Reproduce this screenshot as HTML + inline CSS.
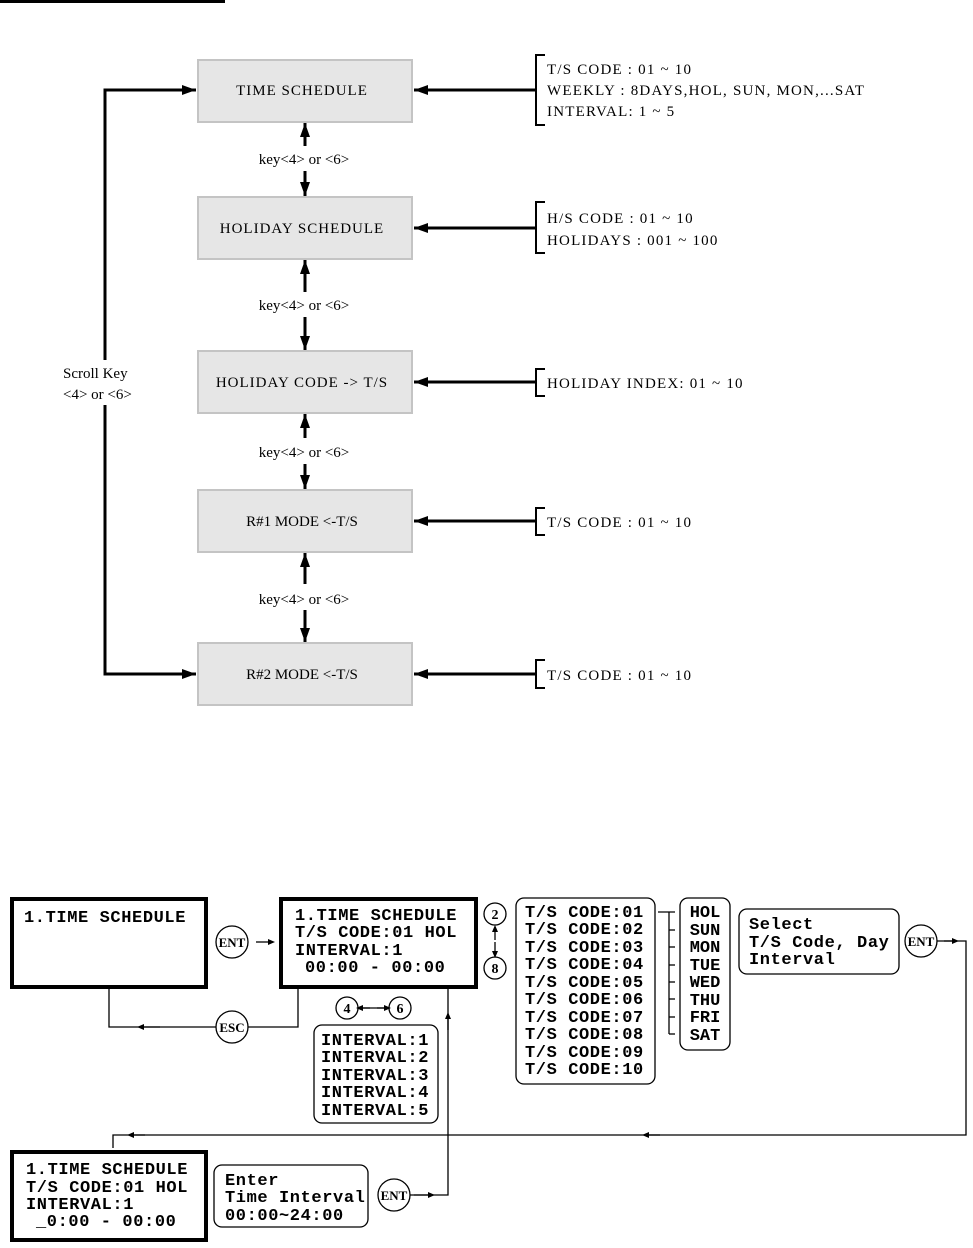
<!DOCTYPE html>
<html><head><style>
body{margin:0;background:#fff}
svg{display:block}
.s{font-family:"Liberation Serif",serif;font-size:15px;fill:#000}
.r{letter-spacing:1.2px}
.m{font-family:"Liberation Mono",monospace;font-size:17px;font-weight:bold;fill:#000;letter-spacing:0.6px;white-space:pre}
.c{font-family:"Liberation Serif",serif;font-size:13px;font-weight:bold;fill:#000}
</style></head><body>
<svg width="973" height="1248" viewBox="0 0 973 1248">
<defs>
<marker id="b" markerWidth="14" markerHeight="10" refX="14" refY="5" orient="auto" markerUnits="userSpaceOnUse"><path d="M0,0L14,5L0,10z"/></marker>
<marker id="s" markerWidth="7" markerHeight="6" refX="4" refY="3" orient="auto" markerUnits="userSpaceOnUse"><path d="M0,0L7,3L0,6z"/></marker>
</defs>
<rect x="0" y="0" width="225" height="3" fill="#000"/>
<g fill="#e6e6e6" stroke="#c4c4c4" stroke-width="2">
<rect x="198" y="60" width="214" height="62"/>
<rect x="198" y="197" width="214" height="62"/>
<rect x="198" y="351" width="214" height="62"/>
<rect x="198" y="490" width="214" height="62"/>
<rect x="198" y="643" width="214" height="62"/>
</g>
<g class="s" text-anchor="middle">
<text x="302" y="95" letter-spacing="1">TIME SCHEDULE</text>
<text x="302" y="233" letter-spacing="1">HOLIDAY SCHEDULE</text>
<text x="302" y="387" letter-spacing="1">HOLIDAY CODE -&gt; T/S</text>
<text x="302" y="526">R#1 MODE &lt;-T/S</text>
<text x="302" y="679">R#2 MODE &lt;-T/S</text>
<text x="304" y="164">key&lt;4&gt; or &lt;6&gt;</text>
<text x="304" y="310">key&lt;4&gt; or &lt;6&gt;</text>
<text x="304" y="457">key&lt;4&gt; or &lt;6&gt;</text>
<text x="304" y="604">key&lt;4&gt; or &lt;6&gt;</text>
</g>
<g stroke="#000" stroke-width="3" fill="none" marker-end="url(#b)">
<line x1="305" y1="146" x2="305" y2="123"/><line x1="305" y1="171" x2="305" y2="196"/>
<line x1="305" y1="292" x2="305" y2="260"/><line x1="305" y1="317" x2="305" y2="350"/>
<line x1="305" y1="438" x2="305" y2="414"/><line x1="305" y1="464" x2="305" y2="489"/>
<line x1="305" y1="584" x2="305" y2="553"/><line x1="305" y1="610" x2="305" y2="642"/>
<polyline points="105,360 105,90 196,90"/>
<polyline points="105,405 105,674 196,674"/>
<line x1="535" y1="90" x2="414" y2="90"/>
<line x1="535" y1="228" x2="414" y2="228"/>
<line x1="535" y1="382" x2="414" y2="382"/>
<line x1="535" y1="521" x2="414" y2="521"/>
<line x1="535" y1="674" x2="414" y2="674"/>
</g>
<g stroke="#000" stroke-width="2" fill="none">
<polyline points="545,55 536,55 536,125 545,125"/>
<polyline points="545,202 536,202 536,253 545,253"/>
<polyline points="545,369 536,369 536,396 545,396"/>
<polyline points="545,508 536,508 536,535 545,535"/>
<polyline points="545,660 536,660 536,688 545,688"/>
</g>
<g class="s">
<text x="63" y="378">Scroll Key</text><text x="63" y="399">&lt;4&gt; or &lt;6&gt;</text>
<g class="r">
<text x="547" y="74">T/S CODE :  01 ~ 10</text>
<text x="547" y="95">WEEKLY : 8DAYS,HOL, SUN, MON,...SAT</text>
<text x="547" y="116">INTERVAL: 1 ~ 5</text>
<text x="547" y="223">H/S CODE :  01 ~ 10</text>
<text x="547" y="245">HOLIDAYS : 001 ~ 100</text>
<text x="547" y="388">HOLIDAY INDEX:  01 ~ 10</text>
<text x="547" y="527">T/S CODE :  01 ~ 10</text>
<text x="547" y="680">T/S CODE :  01 ~ 10</text>
</g>
</g>
<g stroke="#000" stroke-width="4" fill="#fff">
<rect x="12" y="899" width="194" height="88"/>
<rect x="281" y="899" width="195" height="88"/>
<rect x="12" y="1152" width="194" height="88"/>
</g>
<g stroke="#000" stroke-width="1.3" fill="#fff">
<rect x="314" y="1025" width="124" height="98" rx="8"/>
<rect x="516" y="898" width="139" height="186" rx="8"/>
<rect x="680" y="898" width="50" height="152" rx="8"/>
<rect x="739" y="909" width="160" height="65" rx="8"/>
<rect x="214" y="1165" width="154" height="62" rx="8"/>
</g>
<g stroke="#000" stroke-width="1.3" fill="none">
<polyline points="109,989 109,1027 216,1027"/>
<polyline points="248,1027 298,1027 298,989"/>
<polyline points="448,989 448,1195 410,1195"/>
<polyline points="937,941 966,941 966,1135 113,1135 113,1148"/>
<line x1="658" y1="912" x2="675" y2="912"/>
<line x1="669" y1="912" x2="669" y2="1034"/><line x1="669" y1="1034" x2="675" y2="1034"/>
<g><line x1="669" y1="930" x2="675" y2="930"/><line x1="669" y1="947" x2="675" y2="947"/><line x1="669" y1="965" x2="675" y2="965"/><line x1="669" y1="982" x2="675" y2="982"/><line x1="669" y1="999" x2="675" y2="999"/><line x1="669" y1="1017" x2="675" y2="1017"/></g>
<circle cx="232" cy="942" r="16"/><circle cx="232" cy="1027" r="16"/>
<circle cx="921" cy="941" r="16"/><circle cx="394" cy="1195" r="16"/>
<circle cx="495" cy="914" r="11"/><circle cx="495" cy="968" r="11"/>
<circle cx="347" cy="1008" r="11"/><circle cx="400" cy="1008" r="11"/>
<line x1="358" y1="1008" x2="389" y2="1008"/>
</g>
<g stroke="#000" stroke-width="1.3" marker-end="url(#s)">
<line x1="256" y1="942" x2="272" y2="942"/>
<line x1="160" y1="1027" x2="140" y2="1027"/>
<line x1="448" y1="1030" x2="448" y2="1015"/>
<line x1="414" y1="1195" x2="432" y2="1195"/>
<line x1="944" y1="941" x2="956" y2="941"/>
<line x1="660" y1="1135" x2="645" y2="1135"/>
<line x1="145" y1="1135" x2="130" y2="1135"/>
<line x1="495" y1="940" x2="495" y2="928"/><line x1="495" y1="942" x2="495" y2="955"/>
<line x1="370" y1="1008" x2="359" y2="1008"/><line x1="377" y1="1008" x2="388" y2="1008"/>
</g>
<g class="c" text-anchor="middle">
<text x="232" y="947">ENT</text><text x="232" y="1032">ESC</text>
<text x="921" y="946">ENT</text><text x="394" y="1200">ENT</text>
<text x="495" y="919" font-size="14">2</text><text x="495" y="973" font-size="14">8</text>
<text x="347" y="1013" font-size="14">4</text><text x="400" y="1013" font-size="14">6</text>
</g>
<g class="m">
<text x="24" y="922">1.TIME SCHEDULE</text>
<text x="295" y="920">1.TIME SCHEDULE</text>
<text x="295" y="937">T/S CODE:01 HOL</text>
<text x="295" y="955">INTERVAL:1</text>
<text x="305" y="972">00:00 - 00:00</text>
<text x="26" y="1174">1.TIME SCHEDULE</text>
<text x="26" y="1192">T/S CODE:01 HOL</text>
<text x="26" y="1209">INTERVAL:1</text>
<text x="36" y="1226">_0:00 - 00:00</text>
<text x="225" y="1185">Enter</text>
<text x="225" y="1202">Time Interval</text>
<text x="225" y="1220">00:00~24:00</text>
<text x="321" y="1045">INTERVAL:1</text>
<text x="321" y="1062">INTERVAL:2</text>
<text x="321" y="1080">INTERVAL:3</text>
<text x="321" y="1097">INTERVAL:4</text>
<text x="321" y="1115">INTERVAL:5</text>
<text x="525" y="917">T/S CODE:01</text>
<text x="525" y="934">T/S CODE:02</text>
<text x="525" y="952">T/S CODE:03</text>
<text x="525" y="969">T/S CODE:04</text>
<text x="525" y="987">T/S CODE:05</text>
<text x="525" y="1004">T/S CODE:06</text>
<text x="525" y="1022">T/S CODE:07</text>
<text x="525" y="1039">T/S CODE:08</text>
<text x="525" y="1057">T/S CODE:09</text>
<text x="525" y="1074">T/S CODE:10</text>
<text x="749" y="929">Select</text>
<text x="749" y="947">T/S Code, Day</text>
<text x="749" y="964">Interval</text>
</g>
<g class="m" text-anchor="middle" style="letter-spacing:0">
<text x="705" y="917">HOL</text><text x="705" y="935">SUN</text><text x="705" y="952">MON</text><text x="705" y="970">TUE</text>
<text x="705" y="987">WED</text><text x="705" y="1005">THU</text><text x="705" y="1022">FRI</text><text x="705" y="1040">SAT</text>
</g>
</svg>
</body></html>
